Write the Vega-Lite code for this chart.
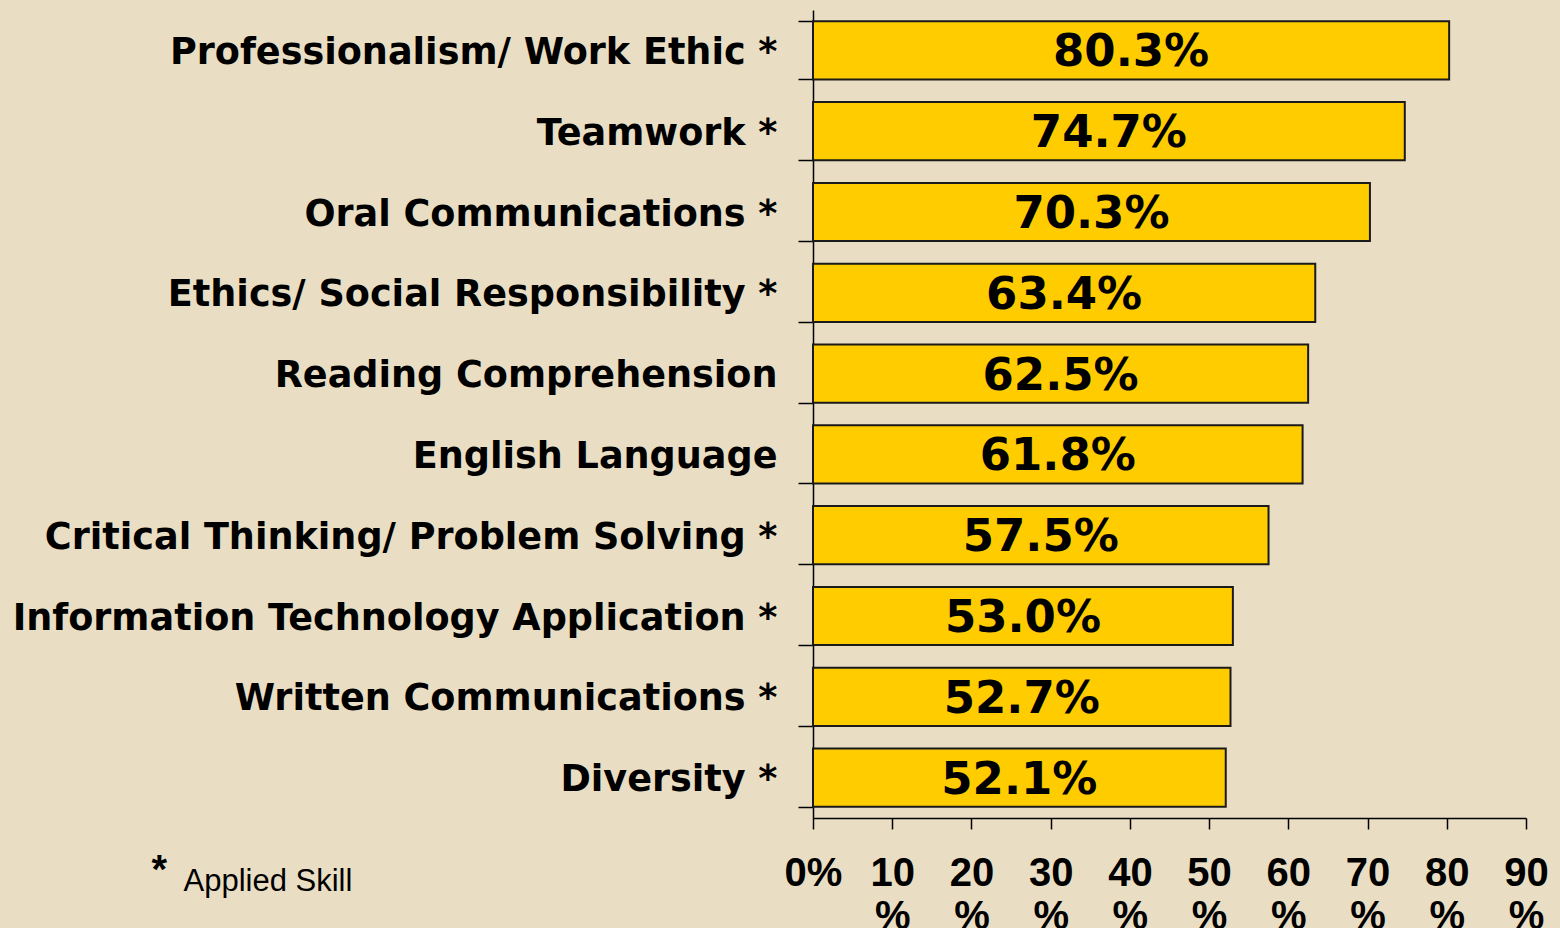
{
  "$schema": "https://vega.github.io/schema/vega-lite/v6.json",
  "width": 713,
  "height": 808,
  "autosize": {"type": "none"},
  "padding": {"left": 813, "top": 10, "right": 34, "bottom": 110},
  "background": "#E9DEC3",
  "config": {"view": {"stroke": null}},
  "data": {
    "values": [
      {"skill": "Professionalism/ Work Ethic *", "pct": 80.3, "label": "80.3%"},
      {"skill": "Teamwork *", "pct": 74.7, "label": "74.7%"},
      {"skill": "Oral Communications *", "pct": 70.3, "label": "70.3%"},
      {"skill": "Ethics/ Social Responsibility *", "pct": 63.4, "label": "63.4%"},
      {"skill": "Reading Comprehension", "pct": 62.5, "label": "62.5%"},
      {"skill": "English Language", "pct": 61.8, "label": "61.8%"},
      {"skill": "Critical Thinking/ Problem Solving *", "pct": 57.5, "label": "57.5%"},
      {"skill": "Information Technology Application *", "pct": 53.0, "label": "53.0%"},
      {"skill": "Written Communications *", "pct": 52.7, "label": "52.7%"},
      {"skill": "Diversity *", "pct": 52.1, "label": "52.1%"}
    ]
  },
  "encoding": {
    "y": {
      "field": "skill",
      "type": "nominal",
      "sort": null,
      "scale": {"paddingInner": 0.28, "paddingOuter": 0.14},
      "axis": {
        "title": "*",
        "titleAngle": 0,
        "titleX": -662,
        "titleY": 872,
        "titleAlign": "left",
        "titleBaseline": "alphabetic",
        "titleFont": "Liberation Sans",
        "titleFontSize": 40,
        "titleFontWeight": "bold",
        "titleColor": "#000000",
        "labelFont": "DejaVu Sans",
        "labelFontSize": 36.6,
        "labelFontWeight": "bold",
        "labelColor": "#000000",
        "labelPadding": 21,
        "labelOffset": 2,
        "labelLimit": 900,
        "tickBand": "extent",
        "tickSize": 15,
        "tickColor": "#000000",
        "tickWidth": 1.5,
        "domainColor": "#000000",
        "domainWidth": 1.5
      }
    }
  },
  "resolve": {"scale": {"x": "independent"}, "axis": {"x": "independent"}},
  "layer": [
    {
      "mark": {"type": "bar", "color": "#FFCC00", "stroke": "#1a1a1a", "strokeWidth": 2},
      "encoding": {
        "x": {
          "field": "pct",
          "type": "quantitative",
          "scale": {"domain": [0, 90], "nice": false},
          "axis": {
            "values": [0, 10, 20, 30, 40, 50, 60, 70, 80, 90],
            "grid": false,
            "title": "Applied Skill",
            "titleX": -630,
            "titleY": 72,
            "titleAlign": "left",
            "titleAnchor": "start",
            "titleBaseline": "alphabetic",
            "titleFont": "Liberation Sans",
            "titleFontSize": 31,
            "titleFontWeight": "normal",
            "titleColor": "#000000",
            "labelExpr": "datum.value == 0 ? '0%' : [toString(datum.value), '%']",
            "labelFont": "Liberation Sans",
            "labelFontSize": 40,
            "labelFontWeight": "bold",
            "labelColor": "#000000",
            "labelBaseline": "top",
            "labelLineHeight": 43,
            "labelPadding": 24,
            "labelOverlap": false,
            "labelFlush": false,
            "tickSize": 11,
            "tickColor": "#000000",
            "tickWidth": 1.5,
            "domainColor": "#000000",
            "domainWidth": 1.5
          }
        }
      }
    },
    {
      "mark": {"type": "text", "font": "DejaVu Sans", "fontSize": 45, "fontWeight": "bold", "color": "#000000", "align": "center", "baseline": "middle", "dy": 2},
      "encoding": {
        "x": {"field": "pct", "type": "quantitative", "scale": {"domain": [0, 180], "nice": false}, "axis": null},
        "text": {"field": "label", "type": "nominal"}
      }
    }
  ]
}
